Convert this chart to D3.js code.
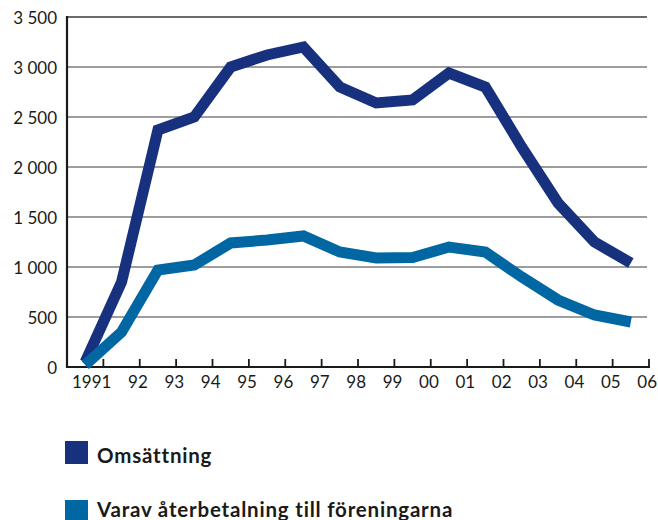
<!DOCTYPE html>
<html>
<head>
<meta charset="utf-8">
<script src="https://cdn.jsdelivr.net/npm/d3@7"></script>
<style>
  html, body { margin: 0; padding: 0; background: #fff; }
  svg { display: block; }
  text { font-family: Lato, "Open Sans", sans-serif; fill: #1a1a1a; }
</style>
</head>
<body>
<svg id="chart" width="658" height="520"></svg>
<script>
// Years along the x axis and their tick labels
const years = d3.range(1991, 2007);
const yearLabels = ["1991", "92", "93", "94", "95", "96", "97", "98", "99", "00", "01", "02", "03", "04", "05", "06"];

// Series values
const omsattning = [50, 850, 2370, 2500, 3000, 3120, 3200, 2800, 2640, 2670, 2940, 2800, 2200, 1640, 1250, 1040];
const aterbetalning = [20, 350, 970, 1020, 1240, 1270, 1310, 1150, 1090, 1095, 1200, 1150, 900, 670, 520, 450];

// Y axis ticks
const yTicks = [0, 500, 1000, 1500, 2000, 2500, 3000, 3500];

const seriesNames = ["Omsättning", "Varav återbetalning till föreningarna"];
const seriesColors = ["#17317f", "#0067a3"];

const svg = d3.select("#chart");
const mLeft = 67, mRight = 649, mTop = 17, mBottom = 367;

const x = d3.scaleBand().domain(years).range([mLeft, mRight]).paddingInner(0).paddingOuter(0);
const y = d3.scaleLinear().domain([0, 3500]).range([mBottom, mTop]);

// Thousands separated by a space
const fmt = v => d3.format(",")(v).replace(/,/g, " ");

// Horizontal gridlines
svg.append("g").selectAll("line").data(yTicks.filter(t => t > 0)).join("line")
  .attr("x1", mLeft).attr("x2", 647)
  .attr("y1", d => y(d)).attr("y2", d => y(d))
  .attr("stroke", d => d === 3500 ? "#3a3a3a" : "#7d7d7d")
  .attr("stroke-width", 1.5);

// Y axis
const yAxis = d3.axisLeft(y).tickValues(yTicks).tickSize(0).tickPadding(10).tickFormat(fmt);
const gy = svg.append("g").attr("transform", `translate(${mLeft},0)`).call(yAxis);
gy.select(".domain").remove();
gy.selectAll("text").attr("font-size", 17).attr("dy", "0.36em")
  .style("font-family", "Lato, sans-serif").attr("fill", "#1a1a1a");

// X axis: ticks at the right edge of each year band, pointing up
const xTickPos = years.map(yr => x(yr) + x.bandwidth());
const gx = svg.append("g");
gx.selectAll("line.tick").data(xTickPos).join("line")
  .attr("class", "tick")
  .attr("x1", d => d).attr("x2", d => d)
  .attr("y1", mBottom).attr("y2", mBottom - 8)
  .attr("stroke", "#1a1a1a").attr("stroke-width", 1.8);
gx.selectAll("text").data(yearLabels).join("text")
  .attr("x", (d, i) => xTickPos[i] + 8)
  .attr("y", 388)
  .attr("text-anchor", "end")
  .attr("font-size", 17)
  .text(d => d);

// Axis lines
svg.append("line").attr("x1", mLeft).attr("x2", mLeft).attr("y1", mTop - 1).attr("y2", mBottom + 1)
  .attr("stroke", "#1a1a1a").attr("stroke-width", 2.2);
svg.append("line").attr("x1", mLeft - 1).attr("x2", mRight + 1).attr("y1", mBottom).attr("y2", mBottom)
  .attr("stroke", "#1a1a1a").attr("stroke-width", 2.2);

// Lines
const line = d3.line()
  .x((d, i) => x(years[i]) + x.bandwidth() / 2)
  .y(d => y(d));

[omsattning, aterbetalning].forEach((vals, k) => {
  svg.append("path")
    .datum(vals)
    .attr("d", line)
    .attr("fill", "none")
    .attr("stroke", seriesColors[k])
    .attr("stroke-width", 11)
    .attr("stroke-linejoin", "miter")
    .attr("stroke-miterlimit", 4)
    .attr("stroke-linecap", "butt");
});

// Legend: swatch rows with their text baselines
const legendY = [441, 500];
const legendBaseline = [22, 17];
const leg = svg.append("g").selectAll("g").data(seriesNames).join("g")
  .attr("transform", (d, i) => `translate(65,${legendY[i]})`);
leg.append("rect").attr("width", 23).attr("height", 23).attr("fill", (d, i) => seriesColors[i]);
leg.append("text")
  .attr("x", 32).attr("y", (d, i) => legendBaseline[i])
  .attr("font-size", 20.5).attr("font-weight", "bold")
  .attr("letter-spacing", 0.8)
  .text(d => d);
</script>
</body>
</html>
